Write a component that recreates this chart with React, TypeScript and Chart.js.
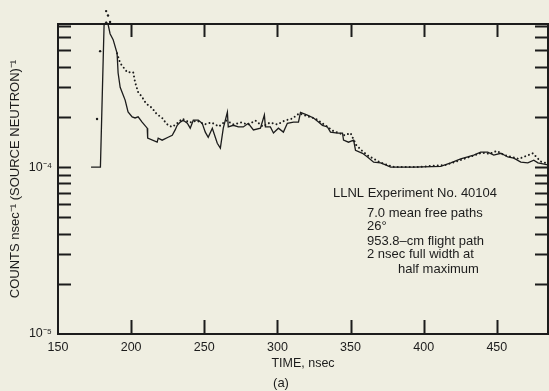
import React, { useEffect, useRef } from "react";
import { Chart, registerables } from "chart.js";

Chart.register(...registerables);

// ---- Data ----
const measuredTime = [
  172.6, 179.0, 181.5, 182.9, 184.2, 185.6, 187.7, 190.4, 191.1, 192.5, 195.9, 197.9,
  200.7, 202.7, 204.8, 207.5, 211.0, 211.3, 217.8, 218.5, 221.2, 225.3, 228.1, 230.1,
  231.5, 233.6, 235.6, 238.4, 240.4, 242.5, 245.9, 248.6, 250.7, 252.7, 255.5, 258.9,
  261.0, 263.0, 265.8, 266.4, 269.9, 273.3, 276.7, 280.1, 283.6, 288.4, 291.1, 291.8,
  295.2, 297.3, 300.7, 304.1, 306.8, 311.0, 314.4, 315.8, 320.5, 324.7, 328.1, 330.8,
  334.2, 336.3, 341.1, 344.5, 345.2, 348.6, 352.1, 353.4, 358.2, 361.6, 365.8, 370.5,
  374.0, 377.4, 393.2, 411.6, 418.5, 425.3, 430.1, 434.2, 439.0, 443.8, 447.9, 452.8,
  457.5, 461.6, 466.4, 471.2, 475.3, 478.1, 485.0,
];
const measuredCounts = [
  1.0e-4, 1.0e-4, 7.1e-4, 7.4e-4, 7.2e-4, 6.3e-4, 5.8e-4, 4.8e-4, 3.66e-4, 3.01e-4, 2.52e-4, 2.14e-4,
  2.0e-4, 1.97e-4, 2.0e-4, 1.86e-4, 1.71e-4, 1.49e-4, 1.41e-4, 1.49e-4, 1.45e-4, 1.51e-4, 1.55e-4, 1.67e-4,
  1.78e-4, 1.86e-4, 1.91e-4, 1.83e-4, 1.71e-4, 1.91e-4, 1.91e-4, 1.83e-4, 1.62e-4, 1.51e-4, 1.71e-4, 1.39e-4,
  1.3e-4, 1.71e-4, 2.13e-4, 1.74e-4, 1.78e-4, 1.74e-4, 1.74e-4, 1.83e-4, 1.67e-4, 1.71e-4, 2.05e-4, 1.74e-4,
  1.74e-4, 1.6e-4, 1.71e-4, 1.62e-4, 1.83e-4, 1.86e-4, 1.86e-4, 2.13e-4, 2.05e-4, 1.97e-4, 1.86e-4, 1.78e-4,
  1.74e-4, 1.62e-4, 1.6e-4, 1.6e-4, 1.45e-4, 1.41e-4, 1.45e-4, 1.26e-4, 1.21e-4, 1.15e-4, 1.07e-4, 1.06e-4,
  1.03e-4, 1.0e-4, 1.0e-4, 1.01e-4, 1.06e-4, 1.12e-4, 1.15e-4, 1.18e-4, 1.23e-4, 1.23e-4, 1.18e-4, 1.21e-4,
  1.15e-4, 1.13e-4, 1.07e-4, 1.06e-4, 1.1e-4, 1.06e-4, 1.03e-4,
];

const calcTime = [
  176.7, 178.8, 182.9, 184.2, 185.6, 190.4, 192.5, 197.3, 199.3, 201.4, 202.7, 204.8,
  207.5, 209.6, 211.6, 214.4, 216.4, 218.5, 221.2, 223.3, 225.3, 228.1, 231.5, 235,
  240, 245, 250, 255, 260, 265, 270, 275, 280, 285, 290, 295,
  300, 305, 310, 315, 318, 322, 326, 330, 334, 338, 342, 346,
  350, 354, 358, 362, 366, 370, 375, 380, 395, 415, 425, 435,
  440, 445, 450, 455, 460, 465, 474.7, 480, 485,
];
const calcCounts = [
  1.94e-4, 4.95e-4, 8.6e-4, 8.1e-4, 7.4e-4, 4.8e-4, 4.2e-4, 3.7e-4, 3.7e-4, 3.7e-4, 3.23e-4, 2.81e-4,
  2.63e-4, 2.45e-4, 2.35e-4, 2.26e-4, 2.13e-4, 2.05e-4, 1.97e-4, 1.86e-4, 1.78e-4, 1.74e-4, 1.83e-4, 1.95e-4,
  1.85e-4, 1.9e-4, 1.8e-4, 1.85e-4, 1.75e-4, 1.9e-4, 1.8e-4, 1.85e-4, 1.8e-4, 1.9e-4, 1.75e-4, 1.85e-4,
  1.8e-4, 1.9e-4, 1.95e-4, 2.1e-4, 2.05e-4, 2.0e-4, 1.95e-4, 1.85e-4, 1.75e-4, 1.65e-4, 1.6e-4, 1.55e-4,
  1.6e-4, 1.35e-4, 1.25e-4, 1.17e-4, 1.12e-4, 1.07e-4, 1.03e-4, 1.0e-4, 1.0e-4, 1.03e-4, 1.1e-4, 1.18e-4,
  1.22e-4, 1.2e-4, 1.25e-4, 1.18e-4, 1.15e-4, 1.12e-4, 1.21e-4, 1.08e-4, 1.05e-4,
];
const calcIsolatedDots = 5; // first points are drawn as separate dots

const xTickValues = [150, 200, 250, 300, 350, 400, 450];
const yLabelValues = [1e-5, 1e-4];
const yLabelTexts = ["10\u207B\u2075", "10\u207B\u2074"];
const yMinorValues = [
  2e-5, 3e-5, 4e-5, 5e-5, 6e-5, 7e-5, 8e-5, 9e-5, 1e-4, 2e-4, 3e-4, 4e-4, 5e-4, 6e-4, 7e-4,
];

const xTitle = "TIME, nsec";
const yTitle = "COUNTS nsec\u207B\u00B9 (SOURCE NEUTRON)\u207B\u00B9";
const panelLabel = "(a)";
const annotationLines = [
  "LLNL Experiment No. 40104",
  "7.0 mean free paths",
  "26\u00B0",
  "953.8\u2013cm flight path",
  "2 nsec full width at",
  "half maximum",
];

const INK = "#1c1c1c";
const BG = "#efeee1";
const FONT = "'Liberation Sans', Arial, Helvetica, sans-serif";

const framePlugin = {
  id: "frame",
  beforeDraw(chart: any) {
    const { ctx, width, height } = chart;
    ctx.save();
    ctx.fillStyle = BG;
    ctx.fillRect(0, 0, width, height);
    ctx.restore();
  },
  afterDatasetsDraw(chart: any) {
    // isolated dots of the calculated series (some lie above the frame)
    const { ctx, scales } = chart;
    ctx.save();
    ctx.fillStyle = INK;
    for (let i = 0; i < calcIsolatedDots; i++) {
      const px = scales.x.getPixelForValue(calcTime[i]);
      const py = scales.y.getPixelForValue(calcCounts[i]);
      ctx.beginPath();
      ctx.arc(px, py, 1.2, 0, Math.PI * 2);
      ctx.fill();
    }
    ctx.restore();
  },
  afterDraw(chart: any) {
    const { ctx, chartArea, scales } = chart;
    const { left, right, top, bottom } = chartArea;
    const x = scales.x;
    const y = scales.y;
    ctx.save();
    ctx.strokeStyle = INK;
    ctx.lineWidth = 2;
    ctx.strokeRect(left, top, right - left, bottom - top);
    ctx.beginPath();
    const tl = 13;
    for (const v of xTickValues) {
      if (v <= x.min) continue;
      const px = Math.round(x.getPixelForValue(v)) + 0.5;
      ctx.moveTo(px, bottom);
      ctx.lineTo(px, bottom - tl - 1);
      ctx.moveTo(px, top);
      ctx.lineTo(px, top + tl);
    }
    for (const v of yMinorValues) {
      const py = Math.round(y.getPixelForValue(v)) + 0.5;
      ctx.moveTo(left, py);
      ctx.lineTo(left + tl, py);
      ctx.moveTo(right, py);
      ctx.lineTo(right - tl, py);
    }
    ctx.stroke();

    // annotation block
    ctx.fillStyle = INK;
    ctx.font = `13px ${FONT}`;
    ctx.textBaseline = "middle";
    ctx.textAlign = "left";
    const pos = [
      [333, 193],
      [367, 213],
      [367, 226],
      [367, 241],
      [367, 254],
      [398, 269],
    ];
    annotationLines.forEach((t, i) => ctx.fillText(t, pos[i][0], pos[i][1]));
    ctx.textAlign = "center";
    ctx.fillText(panelLabel, 281, 383);
    ctx.restore();
  },
};

export default function App() {
  const ref = useRef<HTMLCanvasElement | null>(null);
  useEffect(() => {
    if (!ref.current) return;
    const measured = measuredTime.map((t, i) => ({ x: t, y: measuredCounts[i] }));
    const calc = calcTime.map((t, i) => ({ x: t, y: calcCounts[i] }));
    const chart = new Chart(ref.current, {
      type: "line",
      data: {
        datasets: [
          {
            label: "Measured",
            data: measured,
            borderColor: INK,
            borderWidth: 1.3,
            pointRadius: 0,
            tension: 0,
            clip: false,
          },
          {
            label: "Calculated",
            data: calc,
            borderColor: INK,
            borderWidth: 2,
            borderDash: [0.01, 4],
            borderCapStyle: "round",
            pointRadius: 0,
            tension: 0,
            clip: false,
            segment: {
              borderColor: (c: any) => (c.p0DataIndex < calcIsolatedDots ? "rgba(0,0,0,0)" : INK),
            },
          } as any,
        ],
      },
      options: {
        responsive: false,
        animation: false,
        devicePixelRatio: 1,
        layout: { padding: { top: 24, right: 1, left: 0, bottom: 0 } },
        plugins: { legend: { display: false }, tooltip: { enabled: false } },
        scales: {
          x: {
            type: "linear",
            min: 150,
            max: 485,
            grid: { display: false, drawTicks: false },
            border: { display: false },
            afterBuildTicks: (s: any) => {
              s.ticks = xTickValues.map((v) => ({ value: v }));
            },
            afterFit: (s: any) => {
              s.height = 57;
            },
            ticks: {
              color: INK,
              font: { family: FONT, size: 12.5 },
              padding: 6,
              maxRotation: 0,
              autoSkip: false,
            },
            title: {
              display: true,
              text: xTitle,
              color: INK,
              font: { family: FONT, size: 12.5 },
              padding: { top: 0, bottom: 19.5 },
            },
          },
          y: {
            type: "logarithmic",
            min: 1e-5,
            max: 7.2e-4,
            grid: { display: false, drawTicks: false },
            border: { display: false },
            afterBuildTicks: (s: any) => {
              s.ticks = yLabelValues.map((v) => ({ value: v }));
            },
            afterFit: (s: any) => {
              s.width = 58;
            },
            ticks: {
              color: INK,
              font: { family: FONT, size: 12.5 },
              padding: 6,
              callback: (_v: any, i: number) => yLabelTexts[i],
            },
            title: {
              display: true,
              text: yTitle,
              color: INK,
              font: { family: FONT, size: 13 },
              padding: { top: 7.5, bottom: 0 },
            },
          },
        },
      },
      plugins: [framePlugin],
    } as any);
    return () => chart.destroy();
  }, []);
  return (
    <div style={{ position: "absolute", left: 0, top: 0, width: 549, height: 391, background: BG }}>
      <canvas ref={ref} width={549} height={391} style={{ display: "block" }} />
    </div>
  );
}
